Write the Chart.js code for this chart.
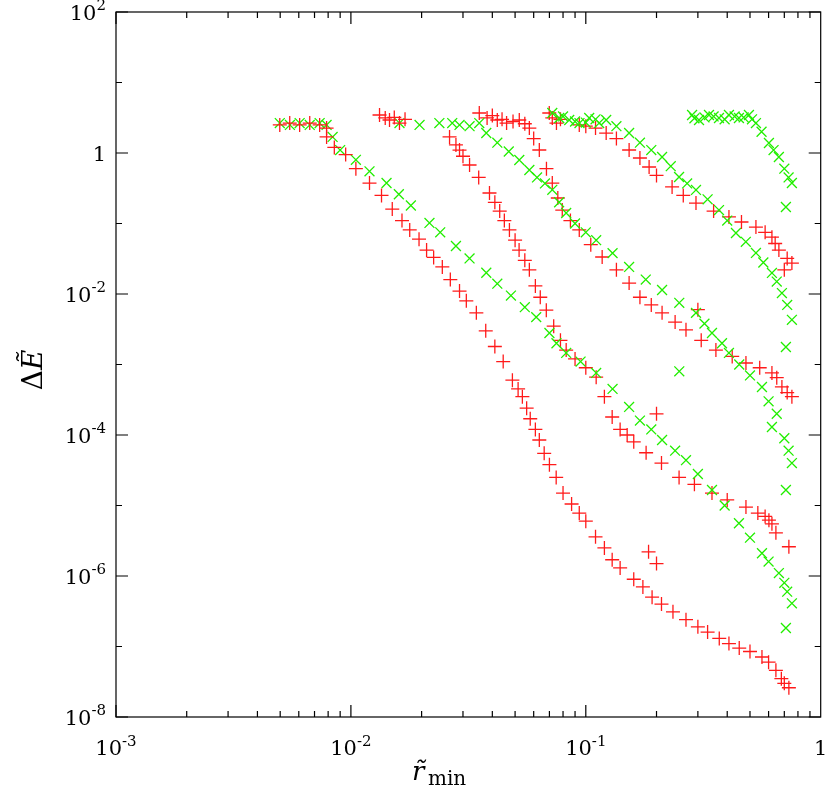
<!DOCTYPE html>
<html><head><meta charset="utf-8">
<script src="https://cdn.jsdelivr.net/npm/chart.js@4"></script>
<style>html,body{margin:0;padding:0;background:#fff}#c{display:block}</style>
</head><body>
<div style="width:829px;height:804px"><canvas id="c" width="829" height="804"></canvas></div>
<script>
const xTickLabels=[["10","-3"],["10","-2"],["10","-1"],["1",""]];
const xTickValues=[1e-3,1e-2,1e-1,1];
const yTickLabels=[["10","2"],["1",""],["10","-2"],["10","-4"],["10","-6"],["10","-8"]];
const yTickValues=[1e2,1,1e-2,1e-4,1e-6,1e-8];

const red1=[[0.00498,2.5],[0.00549,2.66],[0.00605,2.5],[0.00668,2.66],[0.00736,2.5],[0.00788,2.26],[0.00788,1.69],[0.0095,0.95],[0.0120,0.375],[0.0150,0.16],[0.0178,0.081],[0.021,0.042],[0.0245,0.0242],[0.029,0.011],[0.0342,0.0054],[0.041,0.0018],[0.0487,0.0006],[0.0537,0.00035],[0.058,0.00017],[0.0634,8.5e-5],[0.0748,2.5e-5],[0.0938,7.8e-6],[0.11,3.6e-6],[0.1295,1.7e-6],[0.16,9e-7],[0.1915,5e-7],[0.267,2.4e-7],[0.33,1.6e-7],[0.4068,1.1e-7],[0.5623,7.1e-8],[0.6446,4.6e-8],[0.732,2.6e-8],[0.2,1.5e-6],[0.185,2.2e-6],
 [0.0085,1.2],[0.0105,0.6],[0.0135,0.25],[0.0165,0.11],[0.0195,0.06],[0.0225,0.033],[0.0265,0.016],[0.031,0.008],[0.0375,0.003],[0.0445,0.0011],[0.0515,0.00045],[0.056,0.00024],[0.061,0.00012],[0.0665,5.5e-5],[0.07,3.8e-5],[0.08,1.5e-5],[0.087,1.05e-5],[0.1,6e-6],[0.12,2.5e-6],[0.14,1.3e-6],[0.175,7e-7],[0.21,4e-7],[0.235,3.1e-7],[0.3,1.9e-7],[0.37,1.3e-7],[0.45,9.5e-8],[0.5,8.5e-8],[0.6,6e-8],[0.68,3.5e-8],[0.7,3e-8]];
const green1=[[0.00498,2.66],[0.0055,2.5],[0.00605,2.66],[0.00668,2.5],[0.00736,2.66],[0.00788,2.5],[0.00836,1.69],[0.0105,0.8],[0.01418,0.375],[0.018,0.18],[0.0216,0.102],[0.028,0.048],[0.0377,0.02],[0.048,0.0095],[0.0615,0.0047],[0.0825,0.00146],[0.1107,0.00076],[0.1529,0.00025],[0.2112,8.5e-5],[0.267,4.4e-5],[0.3445,1.66e-5],[0.4487,5.6e-6],[0.5623,2.1e-6],[0.6637,1.1e-6],[0.754,4.1e-7],[0.7109,1.83e-7],
 [0.009,1.1],[0.012,0.55],[0.016,0.26],[0.024,0.075],[0.032,0.032],[0.042,0.014],[0.055,0.0065],[0.07,0.0028],[0.075,0.002],[0.095,0.0011],[0.13,0.00045],[0.17,0.00016],[0.19,0.00012],[0.24,6e-5],[0.3,2.8e-5],[0.39,1e-5],[0.5,3.5e-6],[0.6,1.6e-6],[0.7,8e-7],[0.72,6e-7]];
const red2=[[0.01324,3.46],[0.0140,3.14],[0.0146,2.94],[0.0153,3.2],[0.0161,2.66],[0.0263,1.69],[0.0290,1.1],[0.0320,0.676],[0.0389,0.271],[0.043,0.15],[0.0473,0.081],[0.052,0.042],[0.0575,0.022],[0.0679,0.0059],[0.0825,0.0016],[0.1107,0.00066],[0.1295,0.00018],[0.15,0.0001],[0.1806,5.6e-5],[0.2495,2.5e-5],[0.3445,1.5e-5],[0.4806,9.5e-6],[0.602,6.2e-6],[0.6446,4.1e-6],[0.732,2.6e-6],[0.2,0.0002],
 [0.017,3.0],[0.028,1.3],[0.030,0.9],[0.035,0.45],[0.041,0.2],[0.045,0.11],[0.050,0.058],[0.055,0.03],[0.061,0.013],[0.064,0.009],[0.073,0.0035],[0.078,0.0022],[0.09,0.0012],[0.1,0.0009],[0.12,0.00035],[0.14,0.00012],[0.16,8e-5],[0.21,4e-5],[0.29,2e-5],[0.4,1.2e-5],[0.54,7.8e-6],[0.58,7e-6],[0.62,5.5e-6]];
const green2=[[0.0161,2.66],[0.0196,2.5],[0.0238,2.66],[0.0290,2.5],[0.0352,2.66],[0.0377,1.92],[0.0521,0.796],[0.0575,0.574],[0.0720,0.3],[0.0825,0.141],[0.1107,0.058],[0.1529,0.0242],[0.2112,0.0114],[0.2945,0.0054],[0.3445,0.0028],[0.4068,0.00146],[0.5623,0.00048],[0.620,0.00013],[0.754,4.0e-5],[0.7109,1.66e-5],[0.25,0.0008],
 [0.027,2.66],[0.032,2.4],[0.042,1.4],[0.047,1.05],[0.062,0.45],[0.067,0.37],[0.077,0.2],[0.09,0.1],[0.1,0.075],[0.13,0.038],[0.18,0.016],[0.25,0.0075],[0.32,0.0038],[0.38,0.002],[0.45,0.001],[0.5,0.0007],[0.6,0.0003],[0.65,0.0002],[0.7,9e-5],[0.73,6e-5]];
const red3=[[0.0352,3.69],[0.038,3.14],[0.042,2.94],[0.046,2.66],[0.0521,2.94],[0.0575,2.26],[0.0634,1.103],[0.0720,0.375],[0.0794,0.155],[0.0938,0.081],[0.1174,0.0335],[0.1529,0.0143],[0.2112,0.0054],[0.267,0.0031],[0.358,0.0016],[0.4806,0.00105],[0.620,0.00076],[0.6837,0.00048],[0.754,0.00035],[0.3,0.006],
 [0.04,3.4],[0.044,3.0],[0.049,2.8],[0.055,2.6],[0.06,1.6],[0.068,0.6],[0.076,0.23],[0.086,0.11],[0.105,0.05],[0.135,0.022],[0.17,0.009],[0.19,0.007],[0.24,0.004],[0.31,0.0022],[0.42,0.0013],[0.55,0.0009],[0.65,0.00065],[0.72,0.0004]];
const green3=[[0.0720,3.69],[0.0771,3.14],[0.085,2.94],[0.094,2.66],[0.1034,3.14],[0.114,2.66],[0.1221,2.94],[0.1529,1.92],[0.2112,0.878],[0.2495,0.457],[0.2945,0.299],[0.369,0.155],[0.4357,0.0733],[0.530,0.0382],[0.620,0.0199],[0.6837,0.0103],[0.754,0.0043],[0.7109,0.00177],
 [0.08,3.3],[0.09,2.8],[0.1,2.7],[0.11,3.0],[0.135,2.4],[0.17,1.4],[0.19,1.1],[0.23,0.65],[0.27,0.37],[0.33,0.22],[0.4,0.11],[0.48,0.055],[0.57,0.028],[0.65,0.015],[0.72,0.007]];
const red4=[[0.0699,3.69],[0.0720,3.14],[0.075,2.66],[0.0938,2.5],[0.11,2.26],[0.1221,1.92],[0.1529,1.103],[0.186,0.633],[0.233,0.33],[0.2945,0.195],[0.4068,0.124],[0.530,0.089],[0.620,0.064],[0.6637,0.042],[0.754,0.0275],[0.7,0.022],
 [0.078,3.0],[0.1,2.4],[0.135,1.6],[0.17,0.85],[0.2,0.48],[0.26,0.25],[0.35,0.15],[0.46,0.105],[0.58,0.075],[0.64,0.052],[0.72,0.032]];
const green4=[[0.2834,3.46],[0.3034,2.94],[0.3345,3.46],[0.369,3.14],[0.4068,3.46],[0.4487,3.14],[0.4949,3.46],[0.530,2.66],[0.602,1.387],[0.6637,0.878],[0.754,0.375],[0.7109,0.1715],
 [0.29,3.1],[0.32,3.2],[0.35,3.3],[0.39,3.0],[0.43,3.3],[0.47,3.2],[0.51,3.0],[0.56,2.0],[0.63,1.1],[0.7,0.6],[0.73,0.45]];

const toPts=a=>a.map(p=>({x:p[0],y:p[1]}));
const mk=(d,red)=>({data:toPts(d),pointStyle:red?'cross':'crossRot',borderColor:red?'#ff1a1a':'#22ee00',backgroundColor:'transparent',pointRadius:7,pointBorderWidth:1.3,showLine:false});

function drawAxes(ch){
  const c=ch.ctx,xs=ch.scales.x,ys=ch.scales.y,a=ch.chartArea;
  c.save();c.strokeStyle='#000';c.lineWidth=1.2;
  c.strokeRect(a.left,a.top,a.right-a.left,a.bottom-a.top);
  c.beginPath();
  for(let e=-3;e<0;e++)for(let m=1;m<10;m++){const px=xs.getPixelForValue(m*Math.pow(10,e));const L=m==1?12:6;
    c.moveTo(px,a.bottom);c.lineTo(px,a.bottom-L);c.moveTo(px,a.top);c.lineTo(px,a.top+L);}
  for(let e=-8;e<=2;e++){const py=ys.getPixelForValue(Math.pow(10,e));const L=(e%2==0)?12:6;
    c.moveTo(a.left,py);c.lineTo(a.left+L,py);c.moveTo(a.right,py);c.lineTo(a.right-L,py);}
  c.stroke();
  c.fillStyle='#000';c.textBaseline='alphabetic';c.textAlign='left';
  const big='21px "DejaVu Serif", serif',sm='15px "DejaVu Serif", serif';
  xTickValues.forEach((v,i)=>{const t=xTickLabels[i];const x=xs.getPixelForValue(v);
    c.font=big;const w1=c.measureText(t[0]).width;c.font=sm;const w2=t[1]?c.measureText(t[1]).width:0;
    const sx=x-(w1+w2)/2;c.font=big;c.fillText(t[0],sx,a.bottom+38);c.font=sm;if(t[1])c.fillText(t[1],sx+w1,a.bottom+29);});
  yTickValues.forEach((v,i)=>{const py=ys.getPixelForValue(v);const t=yTickLabels[i];
    c.font=big;const w1=c.measureText(t[0]).width;c.font=sm;const w2=t[1]?c.measureText(t[1]).width:0;
    const sx=a.left-10-w1-w2;c.font=big;c.fillText(t[0],sx,py+8);c.font=sm;if(t[1])c.fillText(t[1],sx+w1,py-2);});
  c.font='italic 26px "DejaVu Serif", serif';
  c.fillText('r\u0303',412,780);c.font='20px "DejaVu Serif", serif';c.fillText('min',428,785);
  c.translate(42,370);c.rotate(-Math.PI/2);c.textAlign='left';
  c.font='28px "DejaVu Serif", serif';const wd=c.measureText('\u0394').width;
  c.font='italic 28px "DejaVu Serif", serif';const we=c.measureText('E\u0303').width;
  c.font='28px "DejaVu Serif", serif';c.fillText('\u0394',-(wd+we)/2,0);
  c.font='italic 28px "DejaVu Serif", serif';c.fillText('E\u0303',-(wd+we)/2+wd,0);
  c.restore();
}

new Chart(document.getElementById('c'),{type:'scatter',
  data:{datasets:[mk(red1,1),mk(green1,0),mk(red2,1),mk(green2,0),mk(red3,1),mk(green3,0),mk(red4,1),mk(green4,0)]},
  options:{responsive:false,animation:false,events:[],
    layout:{padding:{left:116,right:7,top:12,bottom:87}},
    plugins:{legend:{display:false},tooltip:{enabled:false}},
    scales:{x:{type:'logarithmic',min:1e-3,max:1,display:false},y:{type:'logarithmic',min:1e-8,max:1e2,display:false}}},
  plugins:[{id:'ax',afterDraw:drawAxes}]
});
</script></body></html>
